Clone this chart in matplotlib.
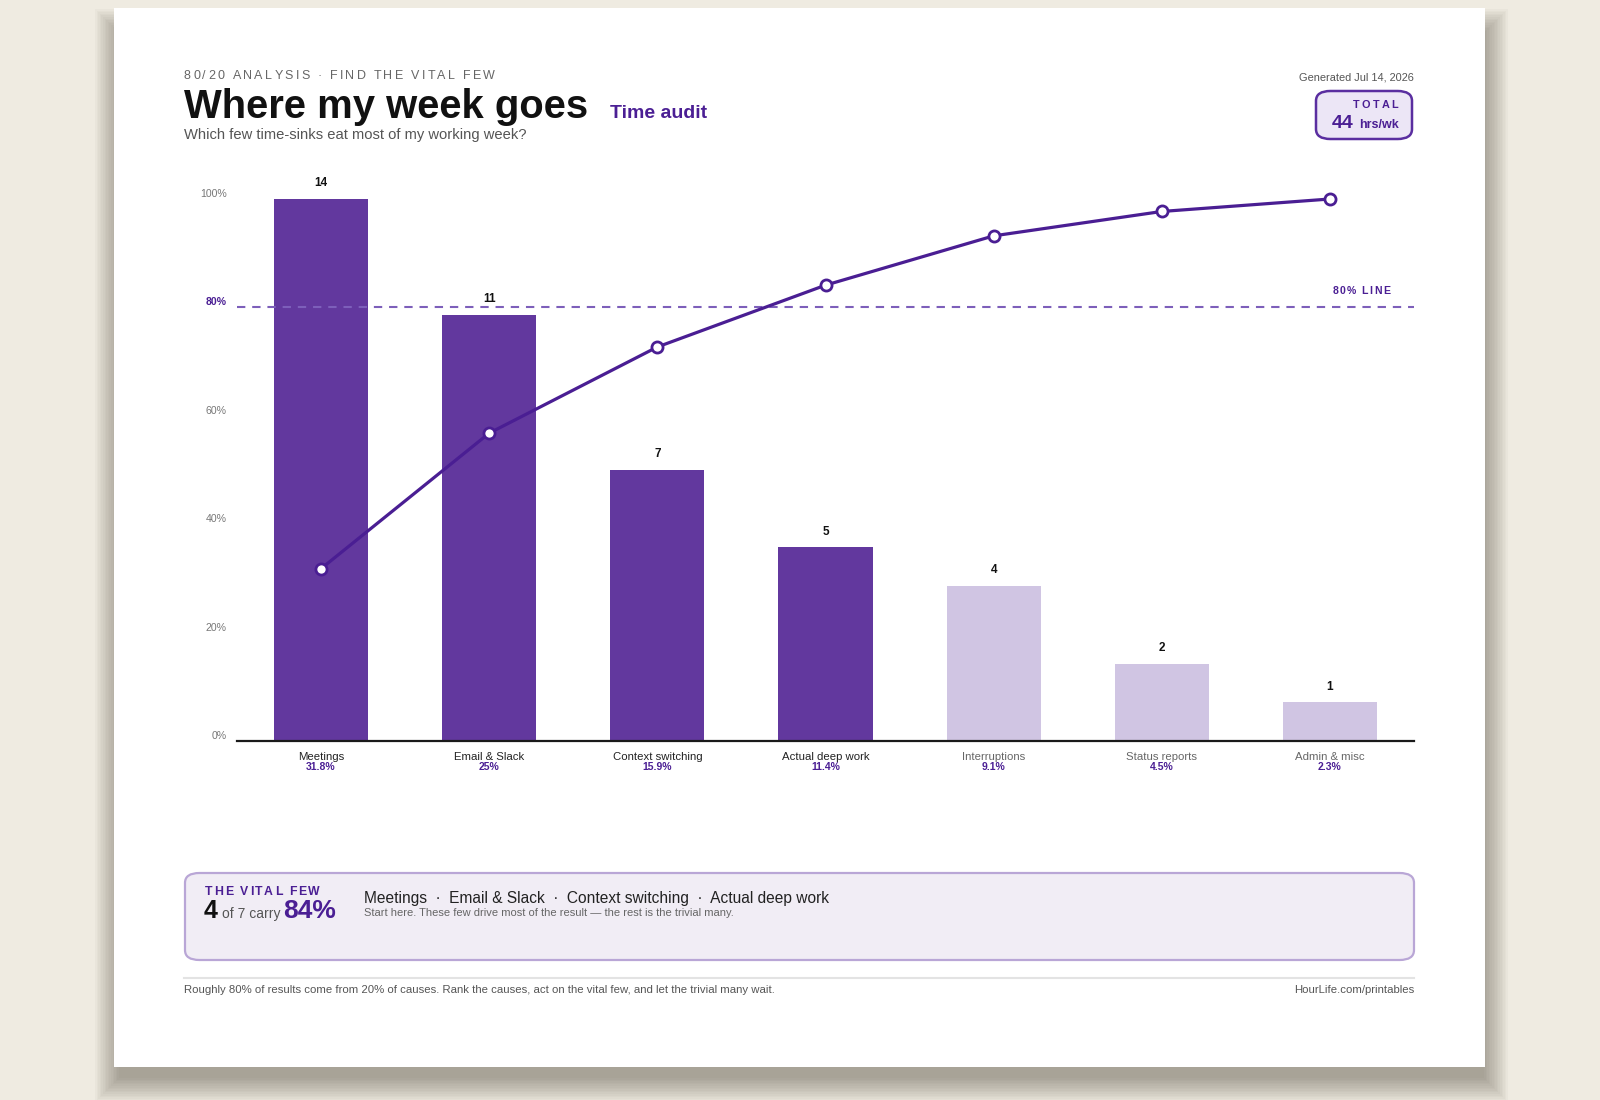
"""
Pareto chart of a weekly time audit: hours per time-sink (bars) with the
cumulative share (line) and an 80% reference, laid out as a printable card.
"""
import matplotlib
matplotlib.use("Agg")
import matplotlib.pyplot as plt
from matplotlib.patches import Rectangle, FancyBboxPatch
from matplotlib.transforms import ScaledTranslation

plt.rcParams["font.family"] = ["Liberation Sans", "DejaVu Sans"]

# ── Data ──────────────────────────────────────────────────────────────────────
categories = ["Meetings", "Email & Slack", "Context switching", "Actual deep work",
              "Interruptions", "Status reports", "Admin & misc"]
hours = [14, 11, 7, 5, 4, 2, 1]
share_labels = ["31.8%", "25%", "15.9%", "11.4%", "9.1%", "4.5%", "2.3%"]
cumulative_pct = [31.8, 56.8, 72.7, 84.1, 93.2, 97.7, 100.0]
vital_few = 4
y_ticks = [0, 20, 40, 60, 80, 100]
threshold = 80

# ── Styling ───────────────────────────────────────────────────────────────────
W, H = 1600, 1100
BG = "#efebe1"
DARK = "#62389e"
LIGHT = "#d0c5e3"
LINE = "#4a1e93"
PURPLE = "#4b1f94"


def fx(x):
    return x / W


def fy(y):
    return 1 - y / H


fig = plt.figure(figsize=(W / 100, H / 100), dpi=100, facecolor=BG)
renderer = fig.canvas.get_renderer()


def text_width(s, **kw):
    t = fig.text(0, 0, s, **kw)
    w = t.get_window_extent(renderer).width
    t.remove()
    return w


def spaced_text(x, y, s, spacing, ha="left", **kw):
    """Letter-spaced text drawn char by char; x, y in pixels (baseline)."""
    base = text_width("xx", **kw)
    adv = [text_width("x" + ch + "x", **kw) - base for ch in s]
    total = sum(adv) + spacing * (len(s) - 1)
    cx = x - total if ha == "right" else x
    for ch, a in zip(s, adv):
        fig.text(fx(cx), fy(y), ch, va="baseline", ha="left", **kw)
        cx += a + spacing
    return cx


def run_text(x, y, parts):
    """Consecutive text pieces on one baseline: parts = [(str, gap, kw)]."""
    cx = x
    for s, gap, kw in parts:
        fig.text(fx(cx), fy(y), s, va="baseline", ha="left", **kw)
        cx += text_width(s, **kw) + gap
    return cx


# ── Card with soft shadow ─────────────────────────────────────────────────────
card = (114, 8, 1485, 1067)
for i in range(16):
    grow = 1 + i * 1.6
    fig.patches.append(Rectangle(
        (fx(card[0] - grow + 6), fy(card[3] + grow + 10)),
        (card[2] - card[0] + 2 * grow - 8) / W, (card[3] - card[1] + 2 * grow - 16) / H,
        transform=fig.transFigure, facecolor="#4d4738", edgecolor="none",
        alpha=0.032, zorder=0))
fig.patches.append(Rectangle((fx(card[0]), fy(card[3])),
                             (card[2] - card[0]) / W, (card[3] - card[1]) / H,
                             transform=fig.transFigure, facecolor="white",
                             edgecolor="none", zorder=1))

# ── Header ────────────────────────────────────────────────────────────────────
spaced_text(184, 79, "80/20 ANALYSIS · FIND THE VITAL FEW", 2.27,
            fontsize=9, color="#666666", zorder=3)
fig.text(fx(184), fy(118), "Where my week goes", fontsize=28.8, fontweight="bold",
         color="#111111", va="baseline", zorder=3)
fig.text(fx(610), fy(118), "Time audit", fontsize=14, fontweight="bold",
         color=PURPLE, va="baseline", zorder=3)
fig.text(fx(184), fy(139), "Which few time-sinks eat most of my working week?",
         fontsize=10.6, color="#555555", va="baseline", zorder=3)
fig.text(fx(1414), fy(80), "Generated Jul 14, 2026", fontsize=7.9,
         color="#555555", ha="right", va="baseline", zorder=3)

# total box
fig.patches.append(FancyBboxPatch((fx(1316), fy(139)), 96 / W, 48 / H,
                                  boxstyle="round,pad=0,rounding_size=0.009",
                                  transform=fig.transFigure, facecolor="#ece6f6",
                                  edgecolor="#5a2ea0", linewidth=1.8, zorder=2))
spaced_text(1398, 108, "TOTAL", 2.2, ha="right", fontsize=7.8,
            fontweight="bold", color=PURPLE, zorder=3)
run_text(1332, 128, [(str(sum(hours)), 5, dict(fontsize=14, fontweight="bold", color=PURPLE, zorder=3)),
                     ("hrs/wk", 0, dict(fontsize=9, fontweight="bold", color=PURPLE, zorder=3))])

# ── Pareto chart ──────────────────────────────────────────────────────────────
ax = fig.add_axes([fx(237), fy(741), (1414 - 237) / W, (741 - 199) / H])
ax.set_zorder(2)
ax.patch.set_visible(False)
xs = list(range(len(categories)))
colors = [DARK if i < vital_few else LIGHT for i in xs]
ax.bar(xs, hours, width=0.56, color=colors, zorder=2)
ax.set_xlim(-0.5, len(categories) - 0.5)
ax.set_ylim(0, max(hours))

for i, h in zip(xs, hours):
    ax.annotate(str(h), (i, h), xytext=(0, 7), textcoords="offset points",
                ha="center", va="bottom", fontsize=8.5, fontweight="bold",
                color="#111111")

below = ax.get_xaxis_transform()
for i, (name, share) in enumerate(zip(categories, share_labels)):
    ax.text(i, 0, name, transform=below + ScaledTranslation(0, -15.5 / 100, fig.dpi_scale_trans),
            ha="center", va="center", fontsize=8.2,
            color="#222222" if i < vital_few else "#666666")
    ax.text(i, 0, share, transform=below + ScaledTranslation(0, -26.5 / 100, fig.dpi_scale_trans),
            ha="center", va="center", fontsize=7.5, fontweight="bold", color=PURPLE)

for side in ["top", "right", "left"]:
    ax.spines[side].set_visible(False)
ax.spines["bottom"].set_color("#1a1a1a")
ax.spines["bottom"].set_linewidth(1.6)
ax.spines["bottom"].set_zorder(5)
ax.set_xticks([])
ax.set_yticks([])

ax2 = ax.twinx()
ax2.set_zorder(3)
ax2.patch.set_visible(False)
ax2.set_ylim(0, 100)
for side in ["top", "right", "left", "bottom"]:
    ax2.spines[side].set_visible(False)
ax2.set_yticks([])

# grid drawn on the background axes so bars sit on top of it
bg = fig.add_axes(ax.get_position())
bg.set_zorder(1)
bg.set_xlim(0, 1)
bg.set_ylim(0, 100)
bg.axis("off")
for t in y_ticks[1:]:
    if t != threshold:
        bg.axhline(t, color="#e6e6e6", linewidth=1.0)

left_lbl = ax2.get_yaxis_transform()
for t in y_ticks:
    hi = t == threshold
    ax2.text(0, t, f"{t}%", transform=left_lbl + ScaledTranslation(-10.5 / 100, 5 / 100, fig.dpi_scale_trans),
             ha="right", va="center", fontsize=7.6,
             color=PURPLE if hi else "#777777", fontweight="bold" if hi else "normal")

ax2.axhline(threshold, color="#7d5fba", linewidth=1.5, linestyle=(0, (4, 3.3)), zorder=1)
ax2.plot(xs, cumulative_pct, color=LINE, linewidth=2.3, marker="o", markersize=8,
         markerfacecolor="white", markeredgecolor=LINE, markeredgewidth=2,
         clip_on=False, zorder=4)
spaced_text(1390, 294, "80% LINE", 1.4, ha="right", fontsize=7.6,
            fontweight="bold", color=PURPLE, zorder=4)

# ── Vital few summary box ─────────────────────────────────────────────────────
fig.patches.append(FancyBboxPatch((fx(185), fy(960)), (1414 - 185) / W, (960 - 873) / H,
                                  boxstyle="round,pad=0,rounding_size=0.009",
                                  transform=fig.transFigure, facecolor="#f1edf5",
                                  edgecolor="#b9a6d6", linewidth=1.6, zorder=2))
spaced_text(205, 895, "THE VITAL FEW", 1.7, fontsize=8.8, fontweight="bold",
            color=PURPLE, zorder=3)
vital_share = f"{round(cumulative_pct[vital_few - 1])}%"
run_text(204, 918, [(str(vital_few), 4, dict(fontsize=18, fontweight="bold", color="#111111", zorder=3)),
                    (f"of {len(categories)} carry", 3, dict(fontsize=10, color="#555555", zorder=3)),
                    (vital_share, 0, dict(fontsize=19, fontweight="bold", color=PURPLE, zorder=3))])
fig.text(fx(364), fy(903), "  ·  ".join(categories[:vital_few]), fontsize=11.2,
         color="#222222", va="baseline", zorder=3)
fig.text(fx(364), fy(916),
         "Start here. These few drive most of the result — the rest is the trivial many.",
         fontsize=8.0, color="#666666", va="baseline", zorder=3)

# ── Footer ────────────────────────────────────────────────────────────────────
fig.add_artist(plt.Line2D([fx(184), fx(1414)], [fy(978), fy(978)],
                          color="#e3e3e3", linewidth=1.5, zorder=3))
fig.text(fx(184), fy(993),
         "Roughly 80% of results come from 20% of causes. Rank the causes, act on the vital few, and let the trivial many wait.",
         fontsize=8.2, color="#555555", va="baseline", zorder=3)
fig.text(fx(1414), fy(993), "HourLife.com/printables", fontsize=8.2,
         color="#555555", ha="right", va="baseline", zorder=3)

fig.savefig("out.png", dpi=100, facecolor=BG)
